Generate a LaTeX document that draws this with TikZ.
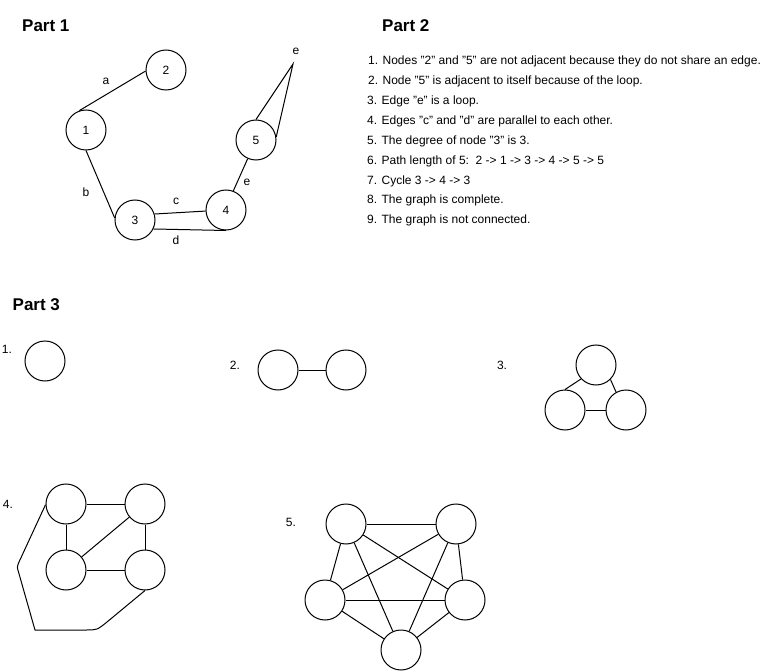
\documentclass[tikz,border=0pt]{standalone}
\usepackage{fontspec}
\setmainfont{Liberation Sans}
\begin{document}
\begin{tikzpicture}[x=1pt,y=-1pt,
  vert/.style={circle,draw,line width=1pt,minimum size=40pt,inner sep=0pt,font=\fontsize{12}{14}\selectfont},
  edge/.style={line width=1pt},
  lbl/.style={font=\fontsize{12}{14}\selectfont,inner sep=0pt},
  title/.style={font=\fontsize{17}{20}\selectfont\bfseries,anchor=base west,inner sep=0pt},
  item/.style={font=\fontsize{12}{14}\selectfont,anchor=base west,inner sep=0pt}]
\useasboundingbox (0,0) rectangle (766,671);
% titles
\node[title] (t1) at (22,31.5) {Part 1};
\node[title] (t2) at (382,31.5) {Part 2};
\node[title] (t3) at (12.5,310) {Part 3};
% Part 1
\node[vert] (p1) at (86,130) {1};
\node[vert] (p2) at (166,70) {2};
\node[vert] (p3) at (135,220) {3};
\node[vert] (p4) at (226,210) {4};
\node[vert] (p5) at (256,140) {5};
\coordinate (eTip) at (293,64);
\draw[edge] (p1.109) -- (p2.183);
\draw[edge] (p1.south) -- (p3.174);
\draw[edge] (p3.17) -- (p4.183);
\draw[edge] (p3.-26) -- (p4.south);
\draw[edge] (p4.69) -- (p5.246);
\draw[edge] (p5.north) -- (eTip) -- (p5.9);
\node[lbl] (la) at (106,81) {a};
\node[lbl] (lb) at (86,192) {b};
\node[lbl] (lc) at (176,201) {c};
\node[lbl] (ld) at (176,240) {d};
\node[lbl] (le) at (247,182) {e};
\node[lbl] (le2) at (296,51) {e};
% Part 2
\node[item] (i1) at (368,65) {1. Nodes "2" and "5" are not adjacent because they do not share an edge.};
\node[item] (i2) at (368,85) {2. Node "5" is adjacent to itself because of the loop.};
\node[item] (i3) at (367,105) {3. Edge "e" is a loop.};
\node[item] (i4) at (367,125) {4. Edges "c" and "d" are parallel to each other.};
\node[item] (i5) at (367,144.5) {5. The degree of node "3" is 3.};
\node[item] (i6) at (367,164.5) {6. Path length of 5:\ \ 2 -> 1 -> 3 -> 4 -> 5 -> 5};
\node[item] (i7) at (367,184.5) {7. Cycle 3 -> 4 -> 3};
\node[item] (i8) at (367,204) {8. The graph is complete.};
\node[item] (i9) at (367,223.5) {9. The graph is not connected.};
% Part 3 labels
\node[lbl] (n1) at (7,349) {1.};
\node[lbl] (n2) at (235,365) {2.};
\node[lbl] (n3) at (502,365) {3.};
\node[lbl] (n4) at (8,504) {4.};
\node[lbl] (n5) at (291,522) {5.};
% graph 1
\node[vert] (g1a) at (45,361) {};
% graph 2
\node[vert] (g2a) at (278,370) {};
\node[vert] (g2b) at (346,370) {};
\draw[edge] (g2a) -- (g2b);
% graph 3
\node[vert] (g3t) at (596,365) {};
\node[vert] (g3l) at (565,410) {};
\node[vert] (g3r) at (626,410) {};
\draw[edge] (g3l.north) -- (g3t.223);
\draw[edge] (g3t.-45) -- (g3r.119);
\draw[edge] (g3l) -- (g3r);
% graph 4
\node[vert] (g4a) at (66,504) {};
\node[vert] (g4b) at (145,504) {};
\node[vert] (g4c) at (66,570) {};
\node[vert] (g4d) at (145,570) {};
\coordinate (k0) at (19,562);
\coordinate (k1) at (17,567);
\coordinate (k1b) at (18.5,572);
\coordinate (k2) at (35,630);
\coordinate (k3) at (86,630);
\coordinate (k4) at (97,630);
\coordinate (k5) at (107,622);
\draw[edge] (g4a) -- (g4b);
\draw[edge] (g4a) -- (g4c);
\draw[edge] (g4b) -- (g4d);
\draw[edge] (g4c) -- (g4d);
\draw[edge] (g4b) -- (g4c);
\draw[edge,line join=round] (g4a.182) -- (k0) .. controls (k1) .. (k1b) -- (k2) -- (k3) .. controls (k4) .. (k5) -- (g4d.south);
% graph 5
\node[vert] (g5a) at (346,524) {};
\node[vert] (g5b) at (456,524) {};
\node[vert] (g5c) at (325,600) {};
\node[vert] (g5d) at (465,600) {};
\node[vert] (g5e) at (401,650) {};
\foreach \u/\v in {g5a/g5b,g5a/g5c,g5a/g5d,g5a/g5e,g5b/g5c,g5b/g5d,g5b/g5e,g5c/g5d,g5c/g5e,g5d/g5e}
  \draw[edge] (\u) -- (\v);
\end{tikzpicture}
\end{document}
